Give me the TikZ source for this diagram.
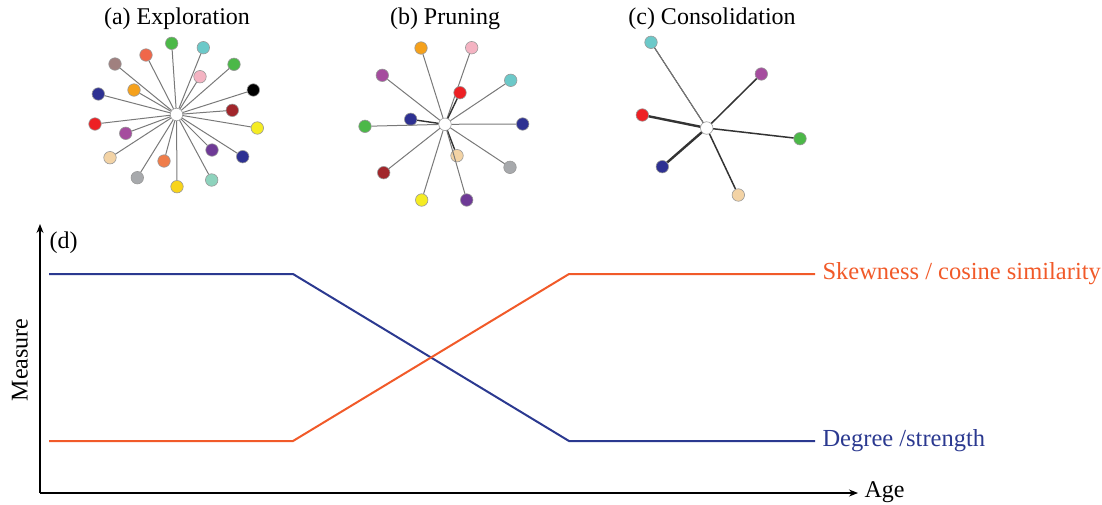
\documentclass[tikz,border=0pt]{standalone}
\usepackage{fontspec}
\setmainfont{Liberation Serif}
\usetikzlibrary{arrows.meta}

\definecolor{lgreen}{HTML}{4CB848}
\definecolor{lcyan}{HTML}{6CC9C9}
\definecolor{lcoral}{HTML}{F0674A}
\definecolor{lmauve}{HTML}{A0807F}
\definecolor{lpink}{HTML}{F4B3C2}
\definecolor{lorange}{HTML}{F5A11C}
\definecolor{lnavy}{HTML}{2E3192}
\definecolor{ldarkred}{HTML}{A1262B}
\definecolor{lred}{HTML}{ED2024}
\definecolor{lyellow}{HTML}{F5EC23}
\definecolor{lmagenta}{HTML}{A54D9E}
\definecolor{lpurple}{HTML}{6E3A96}
\definecolor{lwheat}{HTML}{F3D3A5}
\definecolor{lsalmon}{HTML}{EF7D4A}
\definecolor{lgray}{HTML}{A7A9AC}
\definecolor{lmint}{HTML}{8ED3BD}
\definecolor{lgold}{HTML}{F8D41A}
\definecolor{degblue}{HTML}{2B3990}
\definecolor{skeworange}{HTML}{F15A29}

\begin{document}
\begin{tikzpicture}[x=1pt,y=-1pt,
    leaf/.style={circle,draw=gray!80,line width=0.6pt,minimum size=12.5pt,inner sep=0pt},
    hub/.style={leaf,fill=white},
    spoke/.style={draw=gray!95!black,line width=1pt},
    strong/.style={draw=black!80,line width=1.4pt},
    title/.style={font=\fontsize{24}{28}\selectfont},
    curve/.style={line width=2pt},
    lbl/.style={font=\fontsize{24.5}{28}\selectfont,anchor=west}]
  \useasboundingbox (0,0) rectangle (1102,504);

  % (a) exploration: many weak links
  \node[title] (ta) at (177,19) {(a) Exploration};
  \node[hub] (a0) at (176.5,114.5) {};
  \foreach \px/\py/\col [count=\i] in {171.7/43.3/lgreen, 203.3/47.7/lcyan,
      146/55/lcoral, 115/64/lmauve, 234/64.3/lgreen, 200/76.7/lpink,
      134/90/lorange, 98.3/94/lnavy, 253.3/90/black, 232.3/110.3/ldarkred,
      95/124/lred, 257.3/128/lyellow, 125.7/133.3/lmagenta, 212/150/lpurple,
      242.7/156.7/lnavy, 110/157.7/lwheat, 164/161/lsalmon, 137.3/177.7/lgray,
      211.7/180/lmint, 177/186.7/lgold}{
    \node[leaf,fill=\col] (a\i) at (\px,\py) {};
    \draw[spoke] (a0) -- (a\i);
  }

  % (b) pruning
  \node[title] (tb) at (445,19) {(b) Pruning};
  \node[hub] (b0) at (445,124.3) {};
  \foreach \px/\py/\col/\sty [count=\i] in {421/48/lorange/spoke,
      471.7/47.7/lpink/spoke, 382.3/75.3/lmagenta/spoke, 510.7/80.3/lcyan/spoke,
      460/92.7/lred/strong, 410.7/119.3/lnavy/strong, 365/126.3/lgreen/spoke,
      522.7/124/lnavy/spoke, 457/155.7/lwheat/strong, 510/167.3/lgray/spoke,
      383.7/172.7/ldarkred/spoke, 421.7/200/lyellow/spoke, 466.7/200/lpurple/spoke}{
    \node[leaf,fill=\col] (b\i) at (\px,\py) {};
    \draw[\sty] (b0) -- (b\i);
  }

  % (c) consolidation: few strong links
  \node[title] (tc) at (712,19) {(c) Consolidation};
  \node[hub] (c0) at (706.7,128) {};
  \foreach \px/\py/\col/\w [count=\i] in {651/42.3/lcyan/1, 761.3/74/lmagenta/1.5,
      642.3/115/lred/2.4, 800/138.7/lgreen/1.5, 662.3/166.7/lnavy/2.4,
      738.3/195/lwheat/1.5}{
    \node[leaf,fill=\col] (c\i) at (\px,\py) {};
    \draw[strong,line width=\w pt] (c0) -- (c\i);
  }
  \draw[spoke] (c0) -- (c1);

  % (d) measures over age
  \coordinate (origin) at (40,493);
  \coordinate (ytop) at (40,224);
  \coordinate (xend) at (858,493);
  \draw[line width=1.2pt,-{Stealth[length=9pt,width=7pt]}] (origin) -- (ytop);
  \draw[line width=1.2pt,-{Stealth[length=9pt,width=7pt]}] (origin) -- (xend);
  \node[title,anchor=west] (td) at (46,243) {(d)};
  \node[title,rotate=90] (ylab) at (20,360) {Measure};
  \node[title,anchor=west] (xlab) at (861,492) {Age};

  \draw[curve,degblue] (49,274) -- (293,274) -- (569,441) -- (815,441);
  \draw[curve,skeworange] (49,441) -- (293,441) -- (569,274) -- (815,274);
  \node[lbl,text=skeworange] (skew) at (819,274) {Skewness / cosine similarity};
  \node[lbl,text=degblue] (deg) at (819,441) {Degree /strength};
\end{tikzpicture}
\end{document}
